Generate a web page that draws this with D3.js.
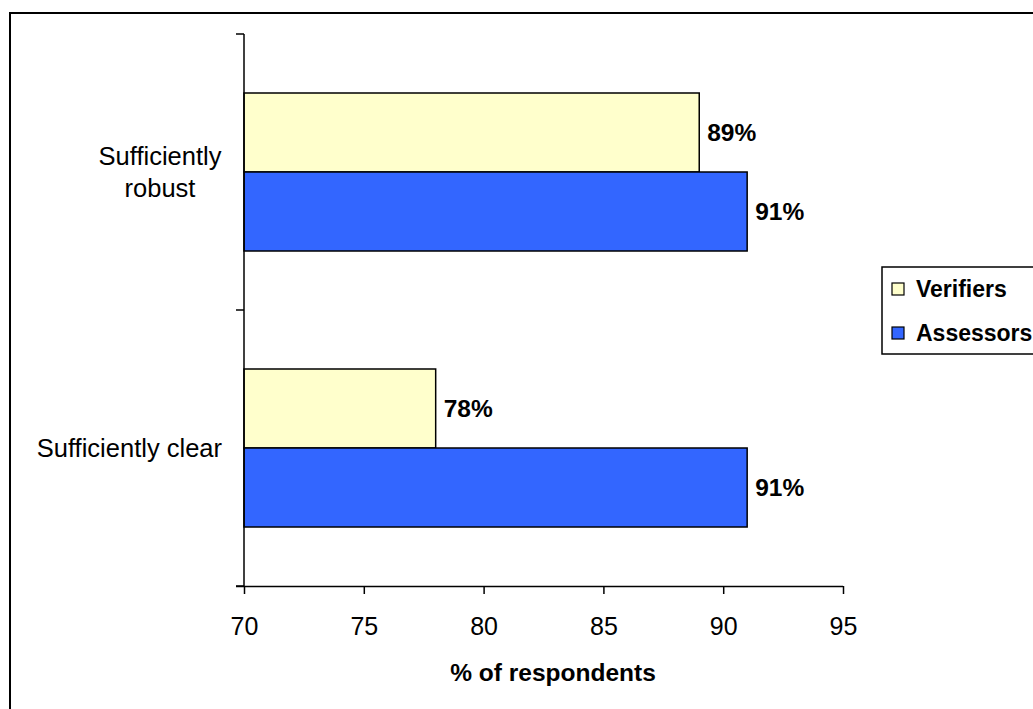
<!DOCTYPE html>
<html>
<head>
<meta charset="utf-8">
<script src="https://cdn.jsdelivr.net/npm/d3@7"></script>
<style>
  html, body { margin: 0; padding: 0; background: #fff; }
  svg { display: block; font-family: Arial, "Liberation Sans", sans-serif; }
</style>
</head>
<body>
<svg id="chart" width="1033" height="709"></svg>
<script>
// Survey results: share of respondents agreeing with each statement
const categories = ["Sufficiently robust", "Sufficiently clear"];
const categoryLines = [["Sufficiently", "robust"], ["Sufficiently clear"]];
const seriesNames = ["Verifiers", "Assessors"];
const verifiers = [89, 78];
const assessors = [91, 91];
const xTicks = [70, 75, 80, 85, 90, 95];
const seriesValues = [verifiers, assessors];
const colors = ["#FFFFCC", "#3366FF"];

const FONT = "Arial, 'Liberation Sans', sans-serif";
const svg = d3.select("#chart");

// Outer chart-area frame
svg.append("rect")
  .attr("x", 10).attr("y", 13)
  .attr("width", 1040).attr("height", 720)
  .attr("fill", "none").attr("stroke", "#000").attr("stroke-width", 2);

const plot = { left: 244, right: 843, top: 34, bottom: 586 };

const x = d3.scaleLinear().domain([70, 95]).range([plot.left, plot.right]);
const y = d3.scaleBand().domain(categories).range([plot.top, plot.bottom]).paddingInner(0).paddingOuter(0);
const barH = 79;

// Bars with value labels
categories.forEach((cat, ci) => {
  const center = y(cat) + y.bandwidth() / 2;
  seriesValues.forEach((vals, si) => {
    const top = center - barH + si * barH;
    svg.append("rect")
      .attr("x", x(70))
      .attr("y", top)
      .attr("width", x(vals[ci]) - x(70))
      .attr("height", barH)
      .attr("fill", colors[si])
      .attr("stroke", "#000")
      .attr("stroke-width", 1.5);
    svg.append("text")
      .attr("x", x(vals[ci]) + 8)
      .attr("y", top + barH / 2)
      .attr("dy", "0.36em")
      .attr("font-size", 24.5)
      .attr("font-weight", "bold")
      .attr("fill", "#000")
      .text(vals[ci] + "%");
  });
});

// X axis
const xAxis = d3.axisBottom(x).tickValues(xTicks).tickSize(8).tickSizeOuter(0);
const gx = svg.append("g").attr("transform", `translate(0,${plot.bottom})`).call(xAxis);
gx.select(".domain").attr("stroke", "#000").attr("stroke-width", 1.5)
  .attr("d", `M${plot.left - 8},0.5H${plot.right}`);
gx.selectAll(".tick line").attr("stroke", "#000").attr("stroke-width", 1.5);
gx.selectAll(".tick text")
  .attr("y", 49).attr("dy", 0)
  .attr("font-size", 25).attr("fill", "#000")
  .attr("font-family", FONT);

// Y axis: line with ticks at category boundaries
svg.append("line")
  .attr("x1", plot.left).attr("x2", plot.left)
  .attr("y1", plot.top).attr("y2", plot.bottom)
  .attr("stroke", "#000").attr("stroke-width", 1.5);
const boundaries = [plot.top, y(categories[1]), plot.bottom];
svg.selectAll(".ytick").data(boundaries).enter().append("line")
  .attr("x1", plot.left - 8).attr("x2", plot.left)
  .attr("y1", d => d).attr("y2", d => d)
  .attr("stroke", "#000").attr("stroke-width", 1.5);

// Category labels
categories.forEach((cat, ci) => {
  const center = y(cat) + y.bandwidth() / 2;
  const lines = categoryLines[ci];
  const lh = 32;
  const t = svg.append("text")
    .attr("font-size", 25.5).attr("fill", "#000")
    .attr("text-anchor", lines.length > 1 ? "middle" : "end");
  lines.forEach((ln, li) => {
    t.append("tspan")
      .attr("x", lines.length > 1 ? 160 : 222)
      .attr("y", center + (li - (lines.length - 1) / 2) * lh)
      .attr("dy", "0.36em")
      .text(ln);
  });
});

// Axis title
svg.append("text")
  .attr("x", 553)
  .attr("y", 681)
  .attr("text-anchor", "middle")
  .attr("font-size", 24.5).attr("font-weight", "bold")
  .text("% of respondents");

// Legend
const lg = svg.append("g").attr("transform", "translate(882,267)");
lg.append("rect").attr("x", 0).attr("y", 0).attr("width", 170).attr("height", 87)
  .attr("fill", "#fff").attr("stroke", "#000").attr("stroke-width", 1.5);
seriesNames.forEach((name, i) => {
  const cy = 22 + i * 44;
  lg.append("rect").attr("x", 10).attr("y", cy - 6).attr("width", 12).attr("height", 12)
    .attr("fill", colors[i]).attr("stroke", "#000").attr("stroke-width", 1.2);
  lg.append("text").attr("x", 34).attr("y", cy).attr("dy", "0.36em")
    .attr("font-size", 23).attr("font-weight", "bold").text(name);
});
</script>
</body>
</html>
